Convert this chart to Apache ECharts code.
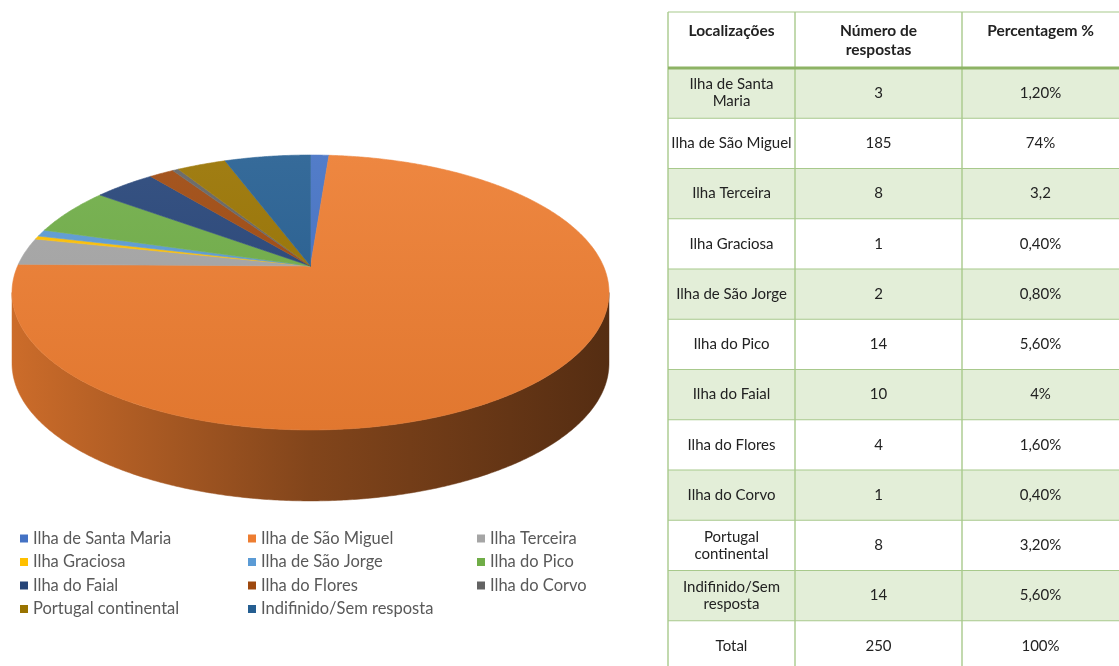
<!DOCTYPE html>
<html>
<head>
<meta charset="utf-8">
<script src="https://cdn.jsdelivr.net/npm/echarts@6/dist/echarts.min.js"></script>
<style>
  html, body { margin: 0; padding: 0; background: #ffffff; }
  #chart { width: 1119px; height: 666px; }
</style>
</head>
<body>
<div id="chart"></div>
<script>
// Respostas por localização
const locations = [
  'Ilha de Santa Maria', 'Ilha de São Miguel', 'Ilha Terceira', 'Ilha Graciosa',
  'Ilha de São Jorge', 'Ilha do Pico', 'Ilha do Faial', 'Ilha do Flores',
  'Ilha do Corvo', 'Portugal continental', 'Indifinido/Sem resposta'
];
const responses = [3, 185, 8, 1, 2, 14, 10, 4, 1, 8, 14];
const percentLabels = ['1,20%', '74%', '3,2', '0,40%', '0,80%', '5,60%', '4%', '1,60%', '0,40%', '3,20%', '5,60%'];
const tableNames = [
  'Ilha de Santa\nMaria', 'Ilha de São Miguel', 'Ilha Terceira', 'Ilha Graciosa',
  'Ilha de São Jorge', 'Ilha do Pico', 'Ilha do Faial', 'Ilha do Flores',
  'Ilha do Corvo', 'Portugal\ncontinental', 'Indifinido/Sem\nresposta'
];
const tableHeaders = ['Localizações', 'Número de\nrespostas', 'Percentagem %'];
const totalLabel = 'Total';
const totalPercent = '100%';
const colors = ['#4472C4', '#ED7D31', '#A5A5A5', '#FFC000', '#5B9BD5', '#70AD47',
                '#264478', '#9E480E', '#636363', '#997300', '#255E91'];
// legend columns (indices into locations)
const legendColumns = [[0, 3, 6, 9], [1, 4, 7, 10], [2, 5, 8]];

const total = responses.reduce((s, v) => s + v, 0);

// perspective projection of the pie disc
const PIE = { cx: 310.5, apexY: 266, a: 292.9, b: 81.1, k: -0.1927, depth: 71, left: 12, right: 609 };
function proj(t, drop) {
  const u = Math.sin(t), v = -Math.cos(t);
  const w = 1 + PIE.k * v;
  return [PIE.cx + PIE.a * u / w, (PIE.b * v + PIE.apexY) / w + (drop || 0)];
}
const sideFrom = Math.acos(PIE.k);
const sideTo = 2 * Math.PI - sideFrom;

function mix(hex, f, toWhite) {
  const n = parseInt(hex.slice(1), 16);
  const c = [(n >> 16) & 255, (n >> 8) & 255, n & 255].map(x =>
    Math.round(toWhite ? x + (255 - x) * f : x * f));
  return 'rgb(' + c.join(',') + ')';
}

const starts = [];
let acc = 0;
responses.forEach(v => { starts.push(acc); acc += v; });

function arcPoints(t0, t1, drop) {
  const n = Math.max(2, Math.ceil((t1 - t0) / 0.008));
  const pts = [];
  for (let i = 0; i <= n; i++) pts.push(proj(t0 + (t1 - t0) * i / n, drop));
  return pts;
}

function sliceRenderer(idx) {
  return function (params, api) {
    const value = api.value(0);
    const t0 = 2 * Math.PI * starts[idx] / total;
    const t1 = t0 + 2 * Math.PI * value / total;
    const base = colors[idx];
    const children = [];
    const s0 = Math.max(t0, sideFrom), s1 = Math.min(t1, sideTo);
    if (s1 > s0) {
      const top = arcPoints(s0, s1, 0);
      const bottom = arcPoints(s0, s1, PIE.depth).reverse();
      const sideFill = new echarts.graphic.LinearGradient(PIE.left, 0, PIE.right, 0, [
        { offset: 0, color: mix(base, 0.86) },
        { offset: 0.5, color: mix(base, 0.55) },
        { offset: 1, color: mix(base, 0.36) }
      ], true);
      children.push({
        type: 'polygon',
        shape: { points: top.concat(bottom) },
        style: { fill: sideFill, stroke: sideFill, lineWidth: 0.5 }
      });
    }
    const topFill = new echarts.graphic.LinearGradient(0, 150, 0, 432, [
      { offset: 0, color: mix(base, 0.08, true) },
      { offset: 1, color: mix(base, 0.95) }
    ], true);
    children.push({
      type: 'polygon',
      shape: { points: [[PIE.cx, PIE.apexY]].concat(arcPoints(t0, t1, 0)) },
      style: { fill: topFill, stroke: topFill, lineWidth: 0.6 }
    });
    return { type: 'group', children: children };
  };
}

const series = locations.map((name, i) => ({
  type: 'custom',
  name: name,
  coordinateSystem: 'none',
  itemStyle: { color: colors[i] },
  renderItem: sliceRenderer(i),
  data: [[responses[i]]],
  silent: true
}));

const legends = legendColumns.map((col, c) => ({
  orient: 'vertical',
  left: [15, 243, 472][c],
  top: 525,
  icon: 'rect',
  itemWidth: 8,
  itemHeight: 8,
  itemGap: 6.5,
  selectedMode: false,
  textStyle: { color: '#595959', fontSize: 16.5, fontFamily: 'Lato', lineHeight: 17 },
  data: col.map(i => locations[i])
}));

// table built from the arrays
const colX = [668, 795, 962, 1119];
const headerTop = 12, headerBottom = 68, rowH = 50.25;
const lineColor = '#A8C98C';
const font = '15px Lato';
const boldFont = 'bold 15.5px Lato';
const graphics = [];
const rows = tableNames.map((n, i) => [n, String(responses[i]), percentLabels[i]]);
rows.push([totalLabel, String(total), totalPercent]);
rows.forEach((r, i) => {
  const y = headerBottom + i * rowH;
  if (i % 2 === 0) {
    graphics.push({ type: 'rect', shape: { x: colX[0], y: y, width: colX[3] + 20 - colX[0], height: rowH },
      style: { fill: '#E3EED8' }, z: 1 });
  }
  r.forEach((txt, c) => {
    graphics.push({ type: 'text', x: (colX[c] + colX[c + 1]) / 2, y: y + rowH / 2, z: 5,
      style: { text: txt, font: font, fill: '#222222', align: 'center', verticalAlign: 'middle', lineHeight: 17 } });
  });
  graphics.push({ type: 'line', shape: { x1: colX[0], y1: y + rowH, x2: colX[3] + 20, y2: y + rowH },
    style: { stroke: lineColor, lineWidth: 1.2 }, z: 3 });
});
tableHeaders.forEach((txt, c) => {
  graphics.push({ type: 'text', x: (colX[c] + colX[c + 1]) / 2, y: 21, z: 5,
    style: { text: txt, font: boldFont, fill: '#222222', align: 'center', verticalAlign: 'top', lineHeight: 19 } });
});
graphics.push({ type: 'line', shape: { x1: colX[0], y1: headerTop, x2: colX[3] + 20, y2: headerTop },
  style: { stroke: lineColor, lineWidth: 1.2 }, z: 3 });
graphics.push({ type: 'line', shape: { x1: colX[0], y1: headerBottom, x2: colX[3] + 20, y2: headerBottom },
  style: { stroke: '#8DB365', lineWidth: 3 }, z: 4 });
for (let c = 0; c < 3; c++) {
  graphics.push({ type: 'line', shape: { x1: colX[c], y1: headerTop, x2: colX[c], y2: 700 },
    style: { stroke: lineColor, lineWidth: 1.4 }, z: 3 });
}

const chart = echarts.init(document.getElementById('chart'), null, { renderer: 'canvas' });
chart.setOption({
  animation: false,
  backgroundColor: '#ffffff',
  legend: legends,
  graphic: graphics,
  series: series
});
</script>
</body>
</html>
